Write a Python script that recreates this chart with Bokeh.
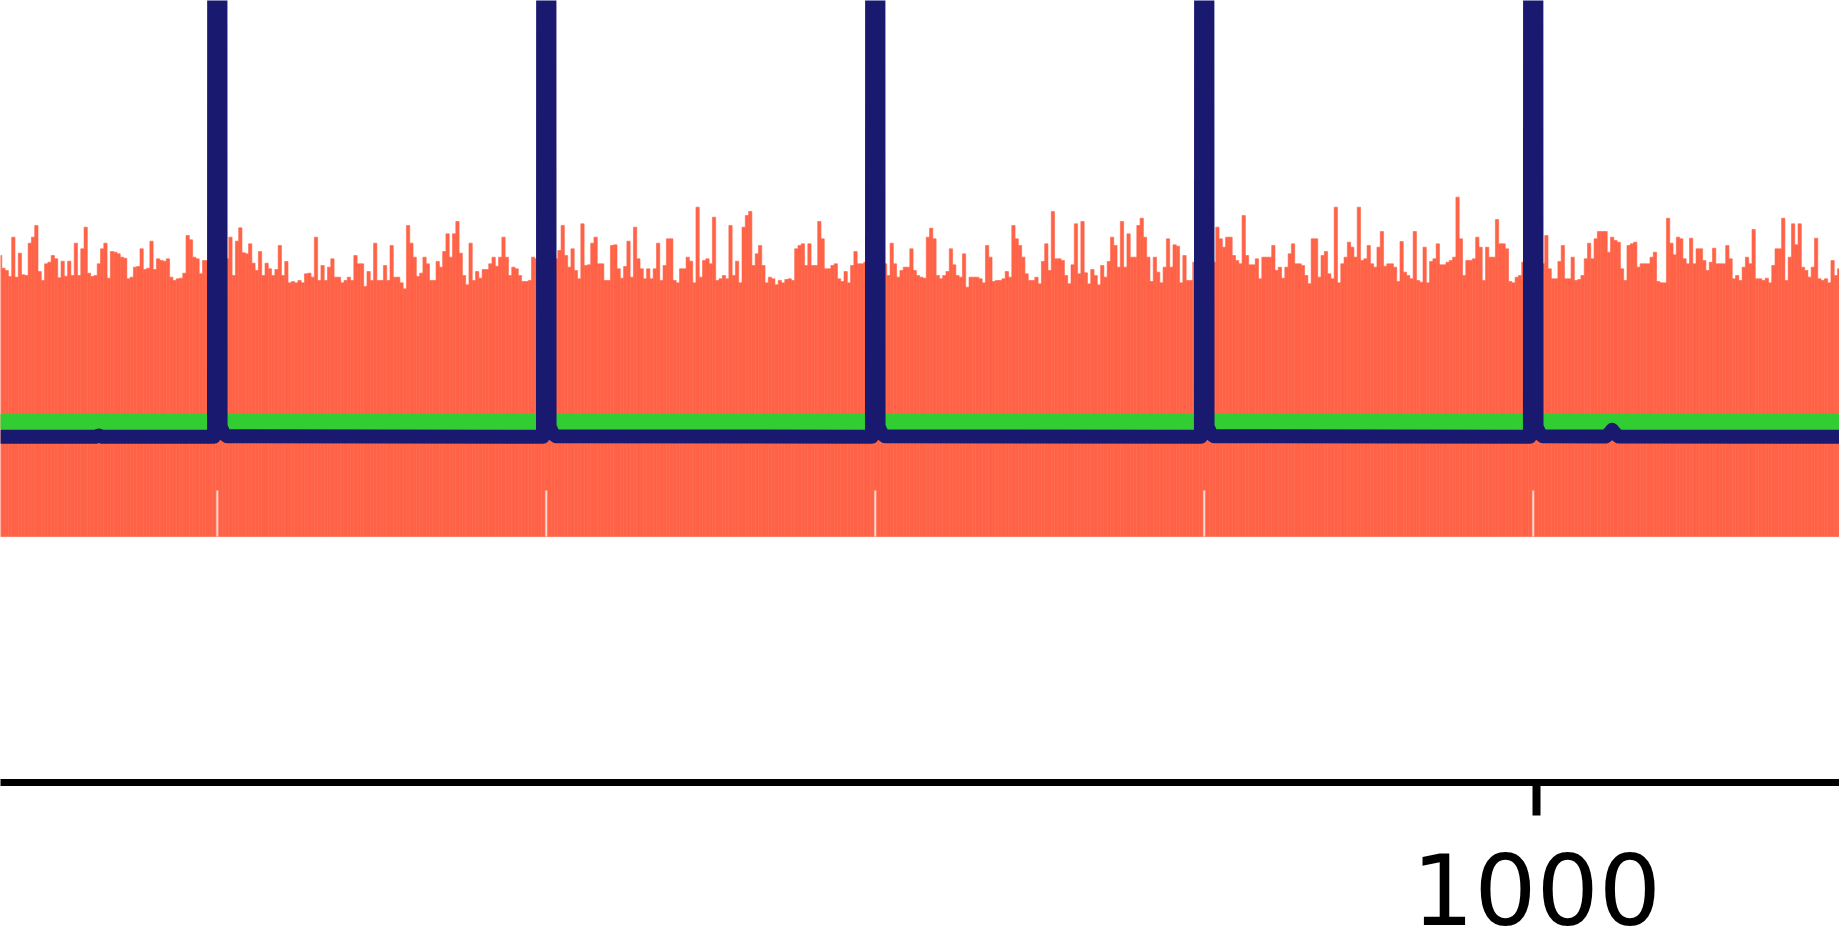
import numpy as np
from bokeh.plotting import figure
from bokeh.models import Range1d, FixedTicker
from bokeh.embed import file_html
from bokeh.resources import INLINE

# ---------------- data ----------------
bar_first = 533  # index of first sample shown

heights_533_626 = [
    .843, .805, .798, .780, .898, .778, .850, .785, .783, .880,
    .898, .933, .795, .768, .818, .823, .843, .833, .776, .826,
    .781, .826, .783, .880, .783, .863, .928, .790, .780, .783,
    .818, .863, .880, .775, .855, .853, .848, .838, .835, .773,
    .778, .808, .810, .863, .801, .805, .886, .801, .833, .828,
    .826, .833, .778, .768, .773, .775, .790, .903, .890, .838,
    .833, .788, .828,
    .828, .823, .833, .818, .813, .823, .833,
    .898, .783, .886, .926, .851, .848, .878, .820, .798, .855,
    .783, .820, .803, .783, .801, .873, .783, .825, .761, .765,
    .761, .768, .761, .788,
]
heights_627_719 = [
    .790, .778, .898, .768, .813, .768, .808, .833, .778, .778,
    .761, .768, .778, .768, .843, .818, .818, .750, .795, .768,
    .880, .768, .768, .813, .768, .873, .778, .778, .761, .743,
    .933, .880, .838, .780, .790, .838, .818, .768, .768, .825,
    .808, .855, .908, .838, .908, .945, .850, .783, .755, .880,
    .768, .795, .775, .801, .801, .818, .838, .811, .838, .898,
    .838, .783, .808, .803, .783, .765, .765, .768, .838,
    .833, .828, .823, .818, .823, .828, .833,
    .858, .933, .843, .808, .863, .798, .773, .938, .813, .815,
    .880, .898, .818, .818, .768, .768, .873,
]
heights_720_812 = [
    .875, .803, .775, .810, .886, .778, .928, .833, .803, .773,
    .803, .773, .803, .880, .768, .813, .893, .893, .768, .761,
    .803, .803, .838, .826, .761, .988, .778, .828, .833, .818,
    .958, .768, .773, .783, .773, .933, .783, .826, .761, .928,
    .963, .975, .813, .848, .873, .813, .761, .778, .773, .755,
    .768, .761, .771, .773, .768, .863, .873, .878, .813, .878,
    .813, .813, .945, .893, .803, .803, .813, .818, .773, .765,
    .795, .761, .813, .855, .818, .818,
    .823, .828, .818, .823, .828, .823, .818,
    .783, .880, .818, .778, .798, .808, .808, .863, .798, .783,
]
heights_813_906 = [
    .778, .775, .898, .925, .893, .783, .773, .783, .795, .863,
    .815, .783, .778, .848, .748, .778, .778, .778, .773, .761,
    .873, .838, .765, .768, .768, .773, .795, .778, .933, .893,
    .873, .838, .788, .768, .768, .778, .758, .825, .878, .798,
    .975, .833, .833, .828, .783, .758, .815, .938, .788, .945,
    .791, .758, .801, .783, .755, .813, .778, .825, .898, .873,
    .808, .945, .808, .908, .838, .838, .933, .955, .898, .838,
    .765, .838, .793, .761, .808, .893, .808, .875, .871, .761,
    .843, .768, .768,
    .823, .823, .828, .818, .823, .828, .823,
    .928, .893, .868, .898,
]
heights_907_998 = [
    .898, .843, .828, .818, .963, .843, .815, .815, .833, .773,
    .838, .838, .838, .873, .798, .808, .775, .808, .848, .878,
    .818, .818, .813, .783, .758, .893, .893, .778, .843, .855,
    .788, .773, .988, .761, .818, .838, .883, .868, .838, .988,
    .828, .833, .873, .818, .808, .868, .915, .811, .818, .818,
    .808, .765, .885, .793, .783, .773, .915, .768, .763, .868,
    .761, .825, .833, .878, .815, .815, .823, .828, .838, 1.018,
    .893, .783, .828, .828, .833, .898, .868, .768, .868, .838,
    .838, .951, .878, .878, .863, .765, .761, .778, .783,
    .823, .818, .823,
]
heights_999_1092 = [
    .823, .828, .823, .818,
    .903, .803, .773, .773, .825, .873, .773, .773, .838, .768,
    .771, .783, .833, .880, .833, .893, .915, .915, .915, .853,
    .898, .888, .883, .803, .768, .873, .878, .883, .808, .818,
    .818, .818, .838, .853, .765, .761, .761, .955, .880, .845,
    .898, .893, .833, .818, .895, .818, .863, .863, .828, .798,
    .823, .865, .818, .818, .818, .873, .833, .773, .783, .768,
    .808, .838, .818, .921, .773, .773, .768, .775, .761, .813,
    .863, .863, .955, .768, .838, .938, .875, .938, .808, .798,
    .778, .808, .895, .773, .768, .773, .761, .828, .783, .803,
]

bar_heights = np.array(heights_533_626 + heights_627_719 + heights_720_812
                       + heights_813_906 + heights_907_998 + heights_999_1092)
bar_x = np.arange(bar_first, bar_first + len(bar_heights))
bar_base = 0.0

# event markers (short white ticks inside the bars) and detector threshold
event_x = [599, 699, 799, 899, 999]
event_mark_top = 0.138
threshold = 0.345

# detector response (navy): flat baseline with a sharp peak at each event
resp_x = [533, 562, 563, 564,
          598, 599, 600, 601, 602,
          698, 699, 700, 701, 702,
          798, 799, 800, 801, 802,
          898, 899, 900, 901, 902,
          998, 999, 1000, 1001, 1002,
          1021, 1022, 1023, 1024, 1025, 1093]
resp_y = [0.299, 0.299, 0.303, 0.299,
          0.299, 30.0, 0.330, 0.308, 0.301,
          0.299, 30.0, 0.330, 0.308, 0.301,
          0.299, 30.0, 0.330, 0.308, 0.301,
          0.299, 30.0, 0.330, 0.308, 0.301,
          0.299, 30.0, 0.330, 0.308, 0.301,
          0.300, 0.308, 0.320, 0.308, 0.300, 0.299]

x_ticks = [1000]
x_view = (533.1, 1092.1)
y_view = (-0.738, 1.608)

# ---------------- plot ----------------
p = figure(width=1839, height=940,
           x_range=Range1d(*x_view), y_range=Range1d(*y_view),
           output_backend="svg", toolbar_location=None,
           y_axis_location=None,
           min_border_left=0, min_border_right=0,
           min_border_top=0, min_border_bottom=158)
p.outline_line_color = None
p.grid.visible = False
p.background_fill_color = "white"
p.border_fill_color = "white"

p.vbar(x=bar_x, top=bar_heights, bottom=bar_base, width=1.0,
       fill_color="tomato", line_color="tomato", line_width=0.6)

p.segment(x0=event_x, y0=[bar_base] * len(event_x),
          x1=event_x, y1=[event_mark_top] * len(event_x),
          line_color="white", line_alpha=0.75, line_width=2)

p.line(x=[bar_x[0] - 1, bar_x[-1] + 1], y=[threshold, threshold],
       line_color="limegreen", line_width=15)

p.line(x=resp_x, y=resp_y, line_color="midnightblue", line_width=14,
       line_join="round")

ax = p.xaxis[0]
ax.ticker = FixedTicker(ticks=x_ticks, minor_ticks=[])
ax.axis_line_color = "black"
ax.axis_line_width = 7
ax.major_tick_line_color = "black"
ax.major_tick_line_width = 8
ax.major_tick_out = 33
ax.major_tick_in = 0
ax.minor_tick_out = 0
ax.minor_tick_in = 0
ax.major_label_text_font = "DejaVu Sans"
ax.major_label_text_font_size = "98px"
ax.major_label_text_color = "black"
ax.major_label_standoff = 37

open("out.html", "w").write(file_html(p, INLINE))
